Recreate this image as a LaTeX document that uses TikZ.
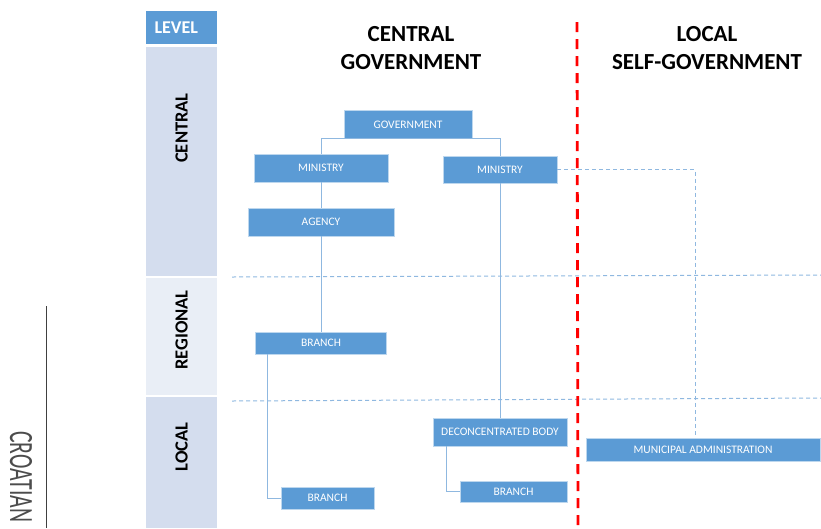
\documentclass[tikz,border=0pt]{standalone}
\usepackage{fontspec}
\setmainfont{Carlito}
\usepackage{tikz}

\definecolor{unitblue}{HTML}{5B9BD5}
\definecolor{unitedge}{HTML}{BDD7EE}
\definecolor{linkblue}{HTML}{8FB8E0}
\definecolor{banddark}{HTML}{D4DDEE}
\definecolor{bandlight}{HTML}{E9EEF6}

\begin{document}
\begin{tikzpicture}[x=1pt,y=-1pt,
  unit/.style={fill=unitblue, draw=unitedge, line width=0.8pt, text=white,
    font=\fontsize{11.5}{13}\selectfont, inner sep=0pt},
  link/.style={draw=linkblue, line width=0.9pt},
  sepline/.style={draw=linkblue, dash pattern=on 4pt off 3pt, line width=1pt},
  levelname/.style={rotate=90, font=\fontsize{18.5}{20}\selectfont\bfseries}]
\clip (0,0) rectangle (821,528);
%% level column
\fill[unitblue] (146,11) rectangle (217,44);
\node[anchor=west, text=white, font=\fontsize{18}{20}\selectfont\bfseries] (level) at (151,27.5) {LEVEL};
\fill[banddark]  (146,47)  rectangle (217,276);
\fill[bandlight] (146,278) rectangle (217,395);
\fill[banddark]  (146,397) rectangle (217,528);
\node[levelname] (lcentral) at (181.5,128) {CENTRAL};
\node[levelname] (lregional) at (181.5,330) {REGIONAL};
\node[levelname] (llocal) at (181.5,447) {LOCAL};
%% side title
\draw[black!75, line width=1pt] (46,306) -- (46,528);
\node[rotate=-90, anchor=west, inner sep=0pt, text=black!70,
  font=\fontsize{34}{36}\selectfont] (country) at (21,431) {\scalebox{0.64}[1]{CROATIAN}};
%% headings
\node[align=center, font=\fontsize{23}{28}\selectfont\bfseries] (hcentral) at (411,48) {CENTRAL\\GOVERNMENT};
\node[align=center, font=\fontsize{23}{28}\selectfont\bfseries] (hlocal) at (707,48) {LOCAL\\SELF-GOVERNMENT};
%draw level borders
\draw[sepline] (232,277) -- (821,275);
\draw[sepline] (232,401) -- (821,398);
\draw[red, line width=2.8pt, dash pattern=on 10pt off 7pt] (577,22) -- (578,528);
%% units
\node[unit, minimum width=128pt, minimum height=28pt] (gov) at (408,124.5) {GOVERNMENT};
\node[unit, minimum width=134pt, minimum height=28pt] (minA) at (321,168) {MINISTRY};
\node[unit, minimum width=114pt, minimum height=27pt] (minB) at (500,169.5) {MINISTRY};
\node[unit, minimum width=146pt, minimum height=28pt] (agency) at (321,222) {AGENCY};
\node[unit, minimum width=131pt, minimum height=22pt] (branchA) at (321,343) {BRANCH};
\node[unit, minimum width=93pt, minimum height=22pt] (branchB) at (327.5,498) {BRANCH};
\node[unit, minimum width=134pt, minimum height=28pt] (deconc) at (500,432) {DECONCENTRATED BODY};
\node[unit, minimum width=107pt, minimum height=21pt] (branchC) at (513.5,491.5) {BRANCH};
\node[unit, minimum width=234pt, minimum height=23pt] (muni) at (703,449.5) {MUNICIPAL ADMINISTRATION};
%% links
\draw[link] (minA.north) |- (gov.south) -| (minB.north);
\draw[link] (minA) -- (agency);
\draw[link] (agency) -- (branchA);
\draw[link] ([xshift=12pt]branchA.south west) |- (branchB.west);
\draw[link] (minB) -- (deconc);
\draw[link] ([xshift=14pt]deconc.south west) |- (branchC.west);
\draw[sepline] (minB.east) -| ([shift={(-8pt,3pt)}]muni.north);
\end{tikzpicture}
\end{document}
